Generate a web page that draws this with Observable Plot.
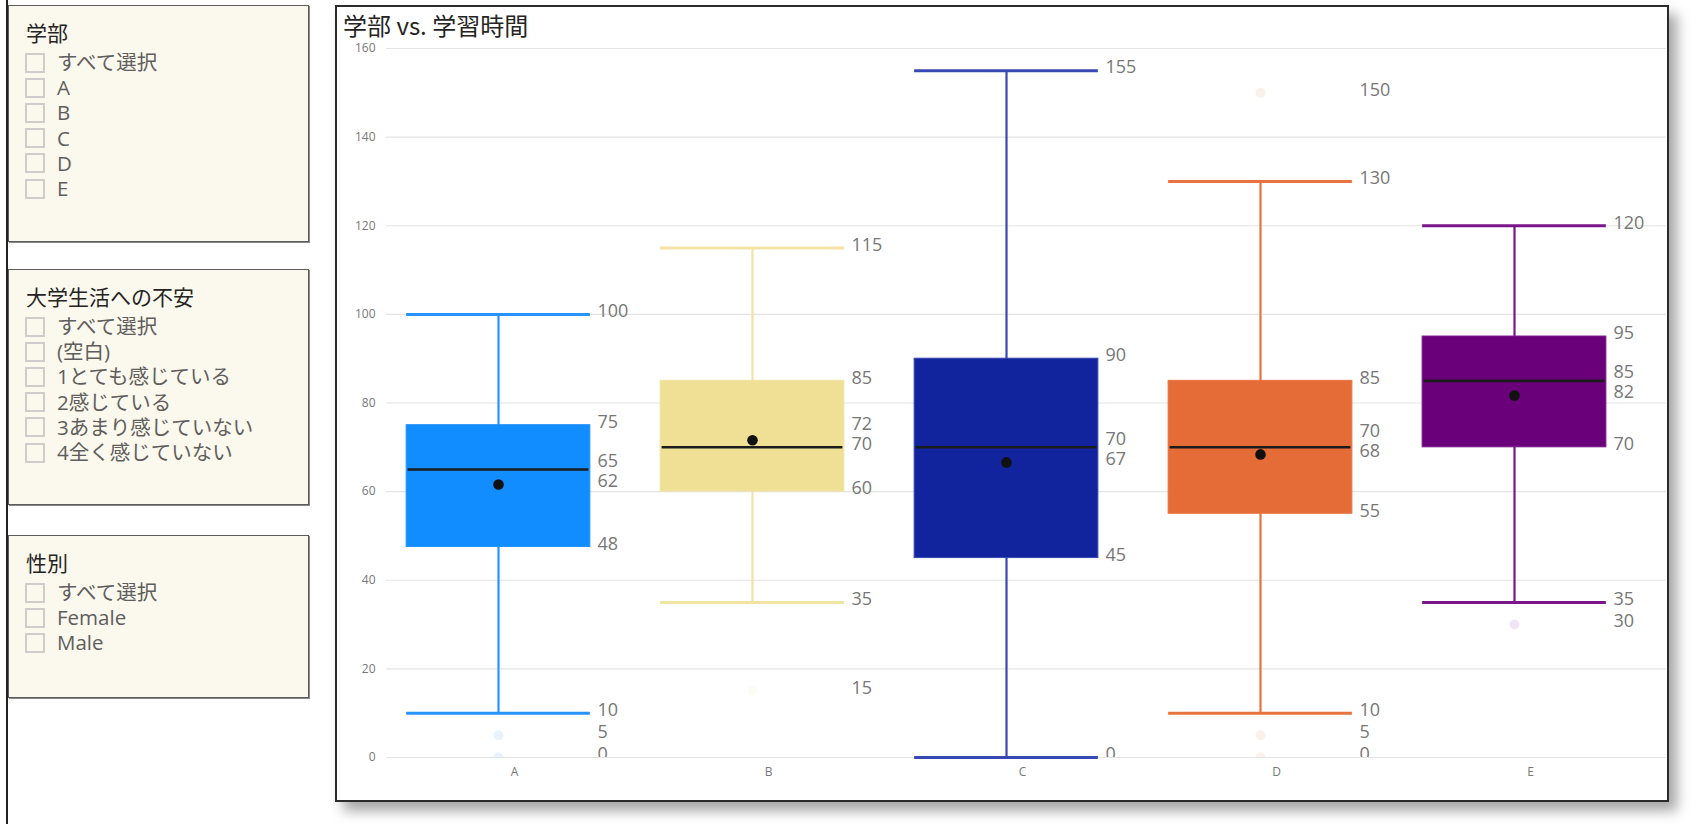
<!DOCTYPE html>
<html>
<head>
<meta charset="utf-8">
<script src="https://cdn.jsdelivr.net/npm/d3@7"></script>
<script src="https://cdn.jsdelivr.net/npm/@observablehq/plot@0.6"></script>
<style>
  html, body { margin: 0; padding: 0; background: #fff; }
  body { width: 1702px; height: 824px; position: relative; overflow: hidden;
         font-family: "Open Sans", "Noto Sans CJK JP", sans-serif; }
  .vline { position: absolute; left: 6px; top: 0; width: 2px; height: 824px; background: #222; }
  .panel { position: absolute; left: 8px; width: 301px; background: #FBF8EE;
           border: 1px solid #5c5c5c; box-shadow: 1px 1px 0 #888; box-sizing: border-box; }
  .panel h3 { position: absolute; left: 17px; top: 13px; margin: 0; height: 26px; line-height: 26px;
              font-size: 21px; font-weight: normal; color: #252423; white-space: nowrap;
              font-family: "Noto Sans CJK JP", sans-serif; }
  .panel ul { position: absolute; left: 16px; top: 44px; margin: 0; padding: 0; list-style: none; }
  .panel li { height: 25.2px; line-height: 25.2px; font-size: 20.5px; color: #605E5C; white-space: nowrap;
              display: flex; align-items: center; }
  .panel li .cb { width: 20px; height: 20px; box-sizing: border-box; border: 2px solid #CFCDCB;
                  margin-right: 12px; flex: none; }
  .card { position: absolute; left: 335px; top: 5px; width: 1334px; height: 797px; box-sizing: border-box;
          border: 2px solid #2b2b2b; background: #fff; box-shadow: 8px 9px 12px rgba(0,0,0,0.35); }
  .title { position: absolute; left: 343px; top: 11px; height: 28px; line-height: 28px; font-size: 24px;
           color: #252423; white-space: nowrap; font-family: "Noto Sans CJK JP", sans-serif; }
  #chart { position: absolute; left: 336px; top: 30px; }
</style>
</head>
<body>
<div class="vline"></div>
<div class="panel" id="p1" style="top:5px;height:237px;"></div>
<div class="panel" id="p2" style="top:269px;height:236px;"></div>
<div class="panel" id="p3" style="top:535px;height:163px;"></div>
<div class="card"></div>
<div class="title">学部 vs. 学習時間</div>
<div id="chart"></div>
<script>
// ---- slicer contents ----
const slicer1Title = "学部";
const slicer1Items = ["すべて選択", "A", "B", "C", "D", "E"];
const slicer2Title = "大学生活への不安";
const slicer2Items = ["すべて選択", "(空白)", "1とても感じている", "2感じている", "3あまり感じていない", "4全く感じていない"];
const slicer3Title = "性別";
const slicer3Items = ["すべて選択", "Female", "Male"];

// ---- box plot data ----
const depts       = ["A", "B", "C", "D", "E"];
const whiskerLow  = [10, 35, 0, 10, 35];
const q1          = [47.5, 60, 45, 55, 70];
const median      = [65, 70, 70, 70, 85];
const q3          = [75, 85, 90, 85, 95];
const whiskerHigh = [100, 115, 155, 130, 120];
const mean        = [61.6, 71.6, 66.6, 68.4, 81.7];
const outlierDept  = ["A", "A", "B", "D", "D", "D", "E"];
const outlierValue = [5, 0, 15, 150, 5, 0, 30];
const yTicks = [0, 20, 40, 60, 80, 100, 120, 140, 160];

const boxColors  = ["#118DFF", "#F0E096", "#12239E", "#E66C37", "#6B007B"];
const lineColors = ["#2893FF", "#F1E3A2", "#3848B3", "#E8733F", "#7A168A"];

// build slicers
function buildPanel(id, title, items) {
  const p = document.getElementById(id);
  const h = document.createElement("h3"); h.textContent = title; p.appendChild(h);
  const ul = document.createElement("ul");
  for (const it of items) {
    const li = document.createElement("li");
    const cb = document.createElement("span"); cb.className = "cb";
    const tx = document.createElement("span"); tx.textContent = it;
    li.appendChild(cb); li.appendChild(tx); ul.appendChild(li);
  }
  p.appendChild(ul);
}
buildPanel("p1", slicer1Title, slicer1Items);
buildPanel("p2", slicer2Title, slicer2Items);
buildPanel("p3", slicer3Title, slicer3Items);

// tables
const stats = depts.map((d, i) => ({
  dept: d, lo: whiskerLow[i], q1: q1[i], med: median[i], q3: q3[i], hi: whiskerHigh[i], mean: mean[i]
}));
const outliers = outlierDept.map((d, i) => ({dept: d, value: outlierValue[i]}));
const colorOf = d => boxColors[depts.indexOf(d)];
const lineOf = d => lineColors[depts.indexOf(d)];

// data labels with simple collision avoidance (in data units)
const minGap = 4.6;
const labels = [];
for (const s of stats) {
  const arr = [s.hi, s.q3, s.med, s.mean, s.q1, s.lo]
    .concat(outliers.filter(o => o.dept === s.dept).map(o => o.value))
    .map(v => ({dept: s.dept, value: v, pos: v, text: String(Math.round(v))}))
    .sort((a, b) => a.value - b.value);
  for (let k = 1; k < arr.length; k++) {
    if (arr[k].pos - arr[k - 1].pos < minGap) arr[k].pos = arr[k - 1].pos + minGap;
  }
  labels.push(...arr);
}

const W = 1330, H = 770;
const step = 254.25;
const inset = (step - 184) / 2;

const chart = Plot.plot({
  width: W,
  height: H,
  marginLeft: 50,
  marginRight: 0,
  marginTop: 18,
  marginBottom: 43,
  style: {fontFamily: "Open Sans, sans-serif", fontSize: "12px", color: "#777", background: "transparent", overflow: "visible"},
  x: {domain: depts, range: [161 - step / 2, 161 + step * 4.5], padding: 0, axis: null},
  y: {domain: [0, 160], ticks: yTicks, tickSize: 0, tickPadding: 11, label: null},
  color: {domain: depts, range: boxColors},
  marks: [
    Plot.ruleY(yTicks, {stroke: "#E4E4E4", strokeWidth: 1.2}),
    Plot.ruleX(stats, {x: "dept", y1: "lo", y2: "hi", stroke: d => lineOf(d.dept), strokeWidth: 2.2}),
    Plot.tickY(stats, {x: "dept", y: "lo", stroke: d => lineOf(d.dept), strokeWidth: 3, insetLeft: inset, insetRight: inset}),
    Plot.tickY(stats, {x: "dept", y: "hi", stroke: d => lineOf(d.dept), strokeWidth: 3, insetLeft: inset, insetRight: inset}),
    Plot.barY(stats, {x: "dept", y1: "q1", y2: "q3", fill: d => colorOf(d.dept), stroke: d => lineOf(d.dept), strokeWidth: 1, insetLeft: inset, insetRight: inset}),
    Plot.tickY(stats, {x: "dept", y: "med", stroke: "#1b1b1b", strokeWidth: 2.6, insetLeft: inset + 1.5, insetRight: inset + 1.5}),
    Plot.dot(stats, {x: "dept", y: "mean", r: 5.3, fill: "#111", stroke: "none"}),
    Plot.dot(outliers, {x: "dept", y: "value", r: 5, fill: d => colorOf(d.dept), fillOpacity: 0.1, stroke: "none", clip: true}),
    Plot.text(labels, {x: "dept", y: "pos", text: "text", dx: 99, dy: -3, textAnchor: "start", fill: "#777", fontSize: 18, clip: true}),
    Plot.text(depts, {x: d => d, frameAnchor: "bottom", dy: 18, dx: 16, text: d => d, fill: "#777", fontSize: 12})
  ]
});
document.getElementById("chart").appendChild(chart);
</script>
</body>
</html>
